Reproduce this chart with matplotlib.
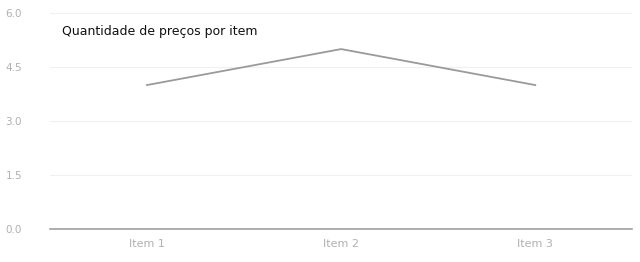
import matplotlib
matplotlib.use("Agg")
import matplotlib.pyplot as plt

categories = ["Item 1", "Item 2", "Item 3"]
values = [4, 5, 4]
yticks = [0.0, 1.5, 3.0, 4.5, 6.0]
title = "Quantidade de preços por item"

fig = plt.figure(figsize=(6.4, 2.62), dpi=100)
ax = fig.add_axes([0.078, 0.126, 0.91, 0.824])
x = list(range(len(categories)))
ax.plot(x, values, color="#9a9a9a", linewidth=1.3)
ax.set_xlim(-0.5, len(categories) - 0.5)
ax.set_ylim(0, 6)
ax.set_yticks(yticks)
ax.set_yticklabels([f"{t:.1f}" for t in yticks])
ax.set_xticks(x)
ax.set_xticklabels(categories)
ax.grid(axis="y", color="#f0f0f0", linewidth=0.8)
ax.set_axisbelow(True)
for s in ["top", "right", "left"]:
    ax.spines[s].set_visible(False)
ax.spines["bottom"].set_color("#a0a0a0")
ax.spines["bottom"].set_linewidth(1.2)
ax.tick_params(axis="both", length=0, labelsize=7.5, colors="#b0b0b0")
ax.tick_params(axis="y", pad=20)
ax.tick_params(axis="x", pad=7, labelsize=8)
ax.text(0.021, 0.915, title, transform=ax.transAxes, fontsize=9,
        color="#111111", va="center", ha="left")
fig.savefig("out.png", dpi=100, facecolor="white")
